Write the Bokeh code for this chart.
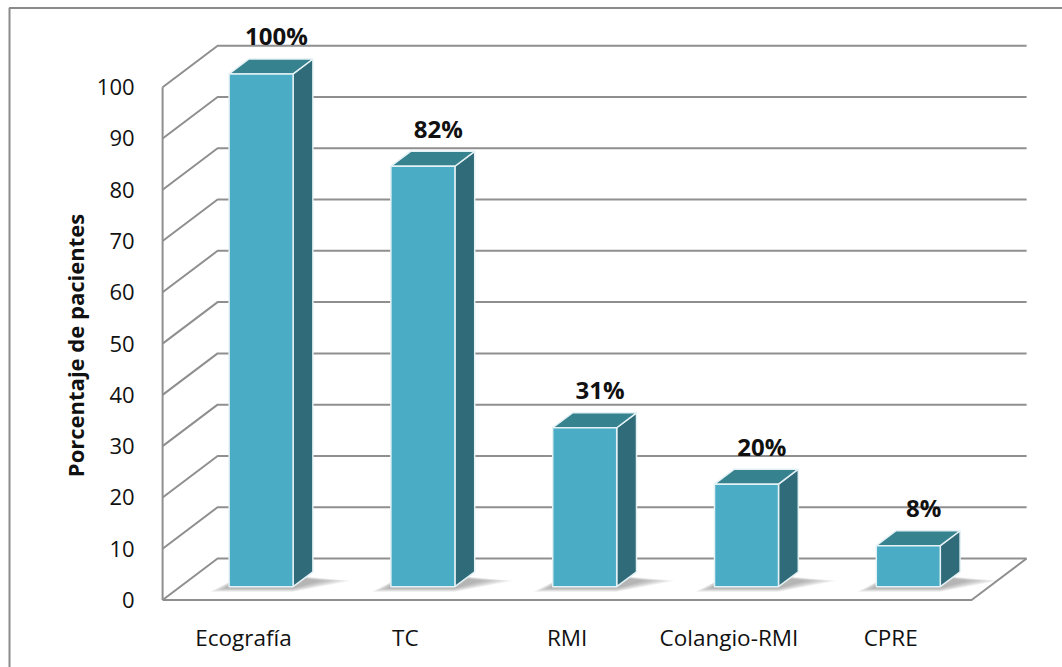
import math

from bokeh.core.properties import value
from bokeh.embed import file_html
from bokeh.models import FixedTicker, LinearAxis, Range1d
from bokeh.plotting import figure
from bokeh.resources import INLINE

# ---- data -----------------------------------------------------------------
categories = ["Ecografía", "TC", "RMI", "Colangio-RMI", "CPRE"]
percentages = [100, 82, 31, 20, 8]
y_ticks = [0, 10, 20, 30, 40, 50, 60, 70, 80, 90, 100]
y_title = "Porcentaje de pacientes"

# ---- layout geometry (canvas pixels) --------------------------------------
W, H = 1062, 667
PX_PER_CAT = 161.8      # horizontal pixels per category slot
PX_PER_VAL = 5.128      # vertical pixels per percentage point
CAT0_PX = 243.0         # x pixel of first category centre on the front edge
ZERO_PX = 599.5         # y pixel of value 0 on the front edge

# oblique depth of the 3-D box, converted to data units
DEPTH_X = 55 / PX_PER_CAT
DEPTH_Y = 41.5 / PX_PER_VAL

BAR_T0, BAR_T1 = 0.32, 0.68     # bar front / back as a fraction of depth
BAR_W = 64 / PX_PER_CAT

FONT = "Open Sans"
GRID_COLOR = "#8f8f8f"
FRONT_COLOR = "#4bacc6"
TOP_COLOR = "#37828f"
SIDE_COLOR = "#306b79"
EDGE_COLOR = "#e4f1f5"


def px_x(px):
    return (px - CAT0_PX) / PX_PER_CAT


def px_y(py):
    return (ZERO_PX - py) / PX_PER_VAL


p = figure(
    width=W, height=H,
    x_range=Range1d(px_x(0), px_x(W)),
    y_range=Range1d(px_y(H), px_y(0)),
    x_axis_location=None, y_axis_location=None,
    toolbar_location=None, output_backend="svg",
    min_border=0, min_border_left=0, min_border_right=0,
    min_border_top=0, min_border_bottom=0,
)
p.grid.visible = False
p.outline_line_color = None
p.background_fill_color = "white"
p.border_fill_color = "white"

n = len(categories)
x_left = -0.5
x_right = n - 0.5

# outer frame of the chart area (left and top edges)
p.line([px_x(9), px_x(9), px_x(W + 5)],
       [px_y(H + 5), px_y(7.5), px_y(7.5)],
       line_color="#8a8a8a", line_width=2)

# ---- walls: gridlines running along the side wall and back wall -----------
gx, gy = [], []
for t in y_ticks:
    gx.append([x_left, x_left + DEPTH_X, x_right + DEPTH_X])
    gy.append([t, t + DEPTH_Y, t + DEPTH_Y])
p.multi_line(gx, gy, line_color=GRID_COLOR, line_width=2)

# front edge of side wall and outline of the floor
p.line([x_left, x_left], [0, max(y_ticks)], line_color=GRID_COLOR, line_width=2)
p.line([x_left, x_right, x_right + DEPTH_X],
       [0, 0, DEPTH_Y], line_color=GRID_COLOR, line_width=2)

# ---- soft floor shadows ---------------------------------------------------
fx, fy = BAR_T0 * DEPTH_X, BAR_T0 * DEPTH_Y
bdx, bdy = (BAR_T1 - BAR_T0) * DEPTH_X, (BAR_T1 - BAR_T0) * DEPTH_Y
for k in range(7):
    grow_l = (4 + 2.5 * k) / PX_PER_CAT
    grow_r = (8 + 5 * k) / PX_PER_CAT
    grow_d = (1.5 + 0.6 * k) / PX_PER_VAL
    xs, ys = [], []
    for i in range(n):
        xl = i + fx - BAR_W / 2
        xr = i + fx + BAR_W / 2
        xs.append([xl - grow_l, xr, xr + bdx + grow_r, xl + bdx])
        ys.append([fy - grow_d, fy - grow_d, fy + bdy * 0.4, fy + bdy])
    p.patches(xs, ys, fill_color="#555555", fill_alpha=0.08, line_color=None)

# ---- 3-D bars -------------------------------------------------------------
front_l = [i + fx - BAR_W / 2 for i in range(n)]
front_r = [i + fx + BAR_W / 2 for i in range(n)]
front_b = [fy] * n
front_t = [v + fy for v in percentages]

side_xs = [[r, r + bdx, r + bdx, r] for r in front_r]
side_ys = [[fy, fy + bdy, v + fy + bdy, v + fy] for v in percentages]
top_xs = [[l, r, r + bdx, l + bdx] for l, r in zip(front_l, front_r)]
top_ys = [[v + fy, v + fy, v + fy + bdy, v + fy + bdy] for v in percentages]

p.patches(side_xs, side_ys, fill_color=SIDE_COLOR,
          line_color=EDGE_COLOR, line_width=1.5)
p.patches(top_xs, top_ys, fill_color=TOP_COLOR,
          line_color=EDGE_COLOR, line_width=1.5)
p.quad(left=front_l, right=front_r, bottom=front_b, top=front_t,
       fill_color=FRONT_COLOR, line_color=EDGE_COLOR, line_width=1.5)

# ---- value labels above each bar ----------------------------------------
lab_x = [i + 0.6 * DEPTH_X for i in range(n)]
lab_y = [v + BAR_T1 * DEPTH_Y + 23 / PX_PER_VAL for v in percentages]
p.text(lab_x, lab_y, text=[f"{v}%" for v in percentages],
       text_font=value(FONT), text_font_style="bold", text_font_size="24px",
       text_color="#111111", text_align="center", text_baseline="middle")

# ---- axes pinned to the front edges of the box ----------------------------
yaxis = LinearAxis(fixed_location=x_left, ticker=FixedTicker(ticks=y_ticks))
yaxis.axis_line_color = None
yaxis.major_tick_line_color = None
yaxis.minor_tick_line_color = None
yaxis.major_label_standoff = 22
yaxis.major_label_text_font = FONT
yaxis.major_label_text_font_size = "22px"
yaxis.major_label_text_color = "#111111"
p.add_layout(yaxis, "left")

xaxis = LinearAxis(fixed_location=0, ticker=FixedTicker(ticks=list(range(n))),
                   major_label_overrides={i: c for i, c in enumerate(categories)})
xaxis.axis_line_color = None
xaxis.major_tick_line_color = None
xaxis.minor_tick_line_color = None
xaxis.major_label_standoff = 16
xaxis.major_label_text_font = FONT
xaxis.major_label_text_font_size = "22.5px"
xaxis.major_label_text_color = "#111111"
p.add_layout(xaxis, "below")

# vertical axis title
p.text([px_x(74)], [px_y(345)], text=[y_title], angle=math.pi / 2,
       text_font=value(FONT), text_font_style="bold", text_font_size="22px",
       text_color="#111111", text_align="center", text_baseline="middle")

open("out.html", "w").write(file_html(p, INLINE))
